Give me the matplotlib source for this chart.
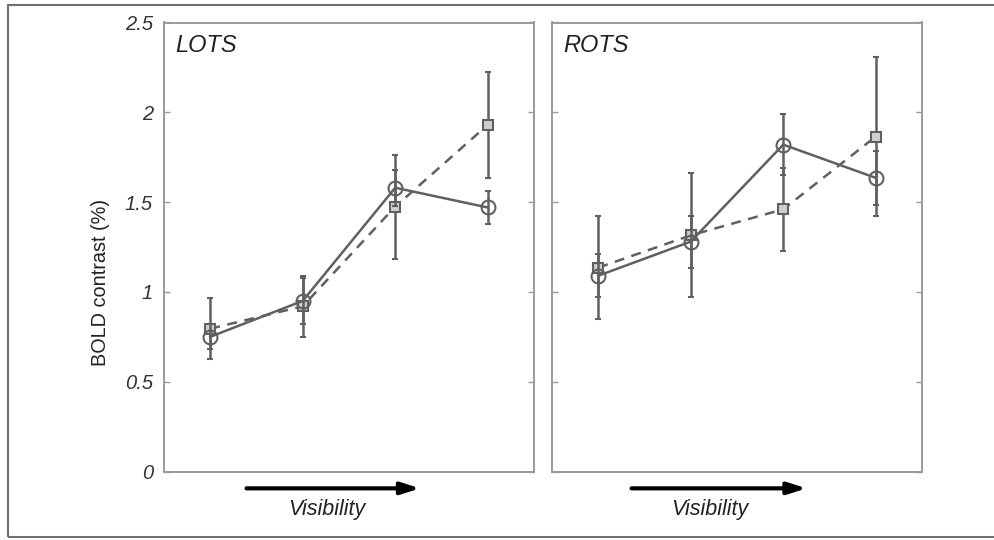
import numpy as np
import matplotlib
matplotlib.use("Agg")
import matplotlib.pyplot as plt
from matplotlib.patches import Rectangle

plt.rcParams["font.family"] = ["Liberation Sans", "DejaVu Sans"]

# ── data: BOLD contrast per visibility level ─────────────
levels = [1, 2, 3, 4]
regions = ["LOTS", "ROTS"]

lots_circle     = [0.75, 0.95, 1.58, 1.47]
lots_circle_err = [0.07, 0.13, 0.10, 0.09]
lots_square     = [0.795, 0.92, 1.475, 1.93]
lots_square_err = [0.17, 0.17, 0.29, 0.295]

rots_circle     = [1.09, 1.28, 1.82, 1.635]
rots_circle_err = [0.12, 0.145, 0.17, 0.15]
rots_square     = [1.135, 1.315, 1.46, 1.865]
rots_square_err = [0.285, 0.345, 0.23, 0.445]

yticks = [0, 0.5, 1, 1.5, 2, 2.5]
ytick_labels = ["0", "0.5", "1", "1.5", "2", "2.5"]

LINE = "#606060"
SPINE = "#9a9a9a"

fig = plt.figure(figsize=(9.95, 5.4), dpi=100)
ax_l = fig.add_axes([164/995, 68.5/540, 370/995, 449/540])
ax_r = fig.add_axes([552/995, 68.5/540, 370/995, 449/540])

panels = [
    (ax_l, "LOTS", lots_circle, lots_circle_err, lots_square, lots_square_err),
    (ax_r, "ROTS", rots_circle, rots_circle_err, rots_square, rots_square_err),
]

for ax, name, c_val, c_err, s_val, s_err in panels:
    # dashed / square series
    ax.errorbar(levels, s_val, yerr=s_err, color=LINE, lw=1.8, ls=(0, (4, 3)),
                elinewidth=1.8, capsize=2.5, capthick=1.8,
                marker="s", ms=7.5, mfc="#d0d0d0", mec=LINE, mew=1.5, zorder=3)
    # solid / circle series
    ax.errorbar(levels, c_val, yerr=c_err, color=LINE, lw=1.8, ls="-",
                elinewidth=1.8, capsize=2.5, capthick=1.8,
                marker="o", ms=10, mfc="none", mec=LINE, mew=1.5, zorder=4)

    ax.set_xlim(0.5, 4.5)
    ax.set_ylim(0, 2.5)
    ax.set_xticks([])
    ax.set_yticks(yticks)
    ax.tick_params(axis="y", direction="in", length=4, width=1, color=SPINE,
                   left=True, right=True, labelsize=14.5, labelcolor="#333333", pad=8)
    for sp in ax.spines.values():
        sp.set_color(SPINE)
        sp.set_linewidth(1.4)

    ax.text(0.03, 0.975, name, transform=ax.transAxes, fontsize=17,
            style="italic", ha="left", va="top", color="#222222")

ax_l.set_yticklabels(ytick_labels, style="italic")
ax_r.set_yticklabels([])

# visibility arrows under each panel
arrow_spans = [(ax_l, 0.223, 0.692, 0.44), (ax_r, 0.215, 0.688, 0.427)]
for ax, x0, x1, xt in arrow_spans:
    ax.annotate("", xy=(x1, -0.0375), xytext=(x0, -0.0375),
                xycoords="axes fraction", textcoords="axes fraction",
                arrowprops=dict(arrowstyle="-|>,head_length=1.1,head_width=0.35",
                                color="black", lw=3, shrinkA=0, shrinkB=0),
                annotation_clip=False)
    ax.text(xt, -0.084, "Visibility", transform=ax.transAxes, fontsize=15.5,
            style="italic", ha="center", va="center", color="#222222")

fig.text(100/995, 1 - 282/540, "BOLD contrast (%)", rotation=90,
         fontsize=14.3, ha="center", va="center", color="#222222")

# outer frame (right edge runs off the canvas)
fig.add_artist(Rectangle((8/995, 3/540), 1.05, 532/540, transform=fig.transFigure,
                         fill=False, ec="#707070", lw=1.5))

plt.savefig("out.png", dpi=100)
